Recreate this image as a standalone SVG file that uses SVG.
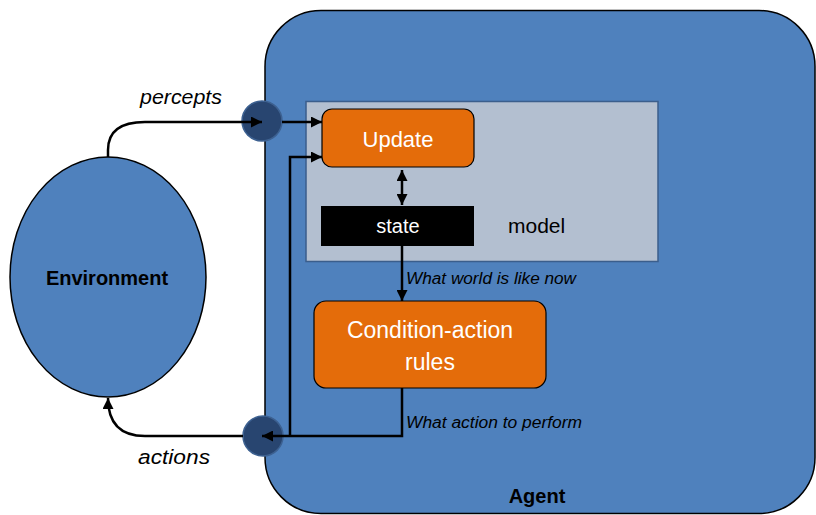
<svg xmlns="http://www.w3.org/2000/svg" width="816" height="515" viewBox="0 0 816 515">
<defs>
<style>
.ln{fill:none;stroke:#000;stroke-width:2.5}
.port{fill:#284570;stroke:#3d6191;stroke-width:1.5}
.orange{fill:#E46C0A;stroke:#000;stroke-width:1.2}
.t{font-family:"Liberation Sans",Arial,sans-serif}
.w{fill:#fff}
.it{font-style:italic}
.b{font-weight:bold}
</style>
<marker id="ah" viewBox="0 0 10 10" refX="10" refY="5" markerWidth="11" markerHeight="11" markerUnits="userSpaceOnUse" orient="auto-start-reverse">
<path d="M0,0 L10,5 L0,10 z" fill="#000"/>
</marker>
</defs>
<rect width="816" height="515" fill="#fff"/>
<g id="agent">
<rect x="265" y="10.5" width="550" height="503" rx="56" fill="#4F81BD" stroke="#000" stroke-width="1.5"/>
<text class="t b" x="537" y="503" font-size="20" text-anchor="middle">Agent</text>
</g>
<g id="model">
<rect x="306" y="101.5" width="352" height="160" fill="#B3BFD0" stroke="#3b5e8c" stroke-width="1.5"/>
<text class="t" x="508" y="233" font-size="21">model</text>
</g>
<g id="environment">
<ellipse cx="108" cy="277" rx="98" ry="120" fill="#4F81BD" stroke="#000" stroke-width="1.5"/>
<text class="t b" x="107" y="285" font-size="20" text-anchor="middle">Environment</text>
</g>
<g id="sensor">
<circle cx="262" cy="121" r="20" class="port"/>
</g>
<g id="effector">
<circle cx="263" cy="436" r="20" class="port"/>
</g>
<g id="update">
<rect x="322" y="109" width="152" height="58" rx="10" class="orange"/>
<text class="t w" x="398" y="147" font-size="22" text-anchor="middle">Update</text>
</g>
<g id="state">
<rect x="321" y="206" width="153" height="40" fill="#000"/>
<text class="t w" x="398" y="233" font-size="20" text-anchor="middle">state</text>
</g>
<g id="rules">
<rect x="314" y="301" width="232" height="87" rx="12" class="orange"/>
<text class="t w" x="430" y="338" font-size="23" text-anchor="middle">Condition-action</text>
<text class="t w" x="430" y="370" font-size="23" text-anchor="middle">rules</text>
</g>
<g id="connectors">
<path class="ln" d="M108,157 L108,150 Q108,122 145,122 L262,122" marker-end="url(#ah)"/>
<path class="ln" d="M282,122 L322,122" marker-end="url(#ah)"/>
<path class="ln" d="M402,170 L402,205" marker-start="url(#ah)" marker-end="url(#ah)"/>
<path class="ln" d="M402,246 L402,301" marker-end="url(#ah)"/>
<path class="ln" d="M402,388 L402,436 L262,436" marker-end="url(#ah)"/>
<path class="ln" d="M290,436 L290,157 L322,157" marker-end="url(#ah)"/>
<path class="ln" d="M243,436 L145,436 Q108,436 108,398" marker-end="url(#ah)"/>
<text class="t it" x="140" y="104" font-size="20" textLength="82" lengthAdjust="spacingAndGlyphs">percepts</text>
<text class="t it" x="138" y="464" font-size="20" textLength="72" lengthAdjust="spacingAndGlyphs">actions</text>
<text class="t it" x="406" y="284" font-size="16" textLength="170" lengthAdjust="spacingAndGlyphs">What world is like now</text>
<text class="t it" x="406" y="428" font-size="16" textLength="176" lengthAdjust="spacingAndGlyphs">What action to perform</text>
</g>
</svg>
